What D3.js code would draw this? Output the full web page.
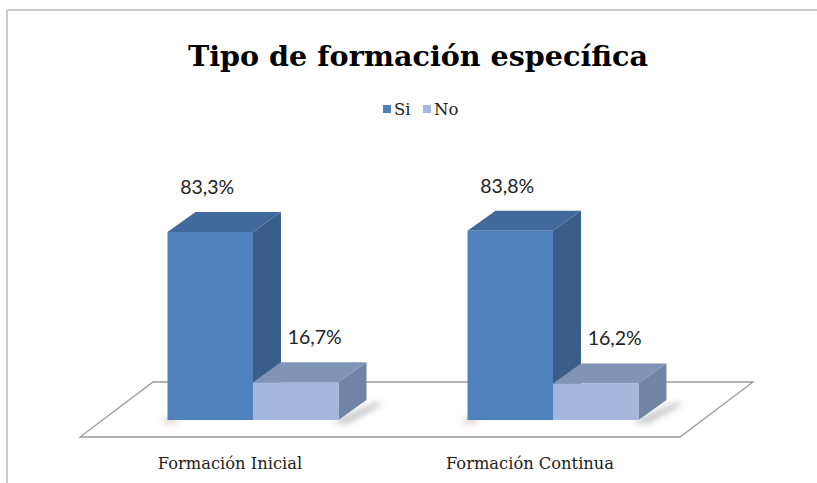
<!DOCTYPE html>
<html>
<head>
<meta charset="utf-8">
<script src="https://cdn.jsdelivr.net/npm/d3@7/dist/d3.min.js"></script>
<style>
  html, body { margin: 0; padding: 0; background: #fff; }
  svg { display: block; }
</style>
</head>
<body>
<script>
// Chart data
const title = "Tipo de formación específica";
const categories = ["Formación Inicial", "Formación Continua"];
const series = ["Si", "No"];
const siValues = [83.3, 83.8];
const noValues = [16.7, 16.2];
const valueLabels = [["83,3%", "16,7%"], ["83,8%", "16,2%"]];

const W = 817, H = 483;

// Styling
const faceColors = {
  Si: { front: "#4f81bd", side: "#3b5e88", top: "#41699c" },
  No: { front: "#a3b8dc", side: "#7085a6", top: "#8094b7" }
};
const legendColors = { Si: "#4f81bd", No: "#a3b8dc" };
const labelNudgeX = { Si: -3, No: 19 };   // horizontal placement of value labels
const depth = { dx: 28, dy: -20 };          // bar depth projection
const floorFront = { dx: -23, dy: 17 };     // floor front edge relative to bar front plane
const floorBack = { dx: 50, dy: -38 };      // floor back edge relative to bar front plane

const svg = d3.select("body").append("svg")
  .attr("width", W).attr("height", H);

const defs = svg.append("defs");
defs.append("filter").attr("id", "soft")
  .attr("x", "-50%").attr("y", "-50%").attr("width", "200%").attr("height", "200%")
  .append("feGaussianBlur").attr("stdDeviation", 3);

// Outer frame (top and left edges visible)
svg.append("line").attr("x1", 7).attr("y1", 10).attr("x2", W).attr("y2", 10)
  .attr("stroke", "#c9c9c9").attr("stroke-width", 2);
svg.append("line").attr("x1", 7).attr("y1", 10).attr("x2", 7).attr("y2", H)
  .attr("stroke", "#c9c9c9").attr("stroke-width", 2);

// Scales (front plane of the bars)
const x0 = d3.scaleBand().domain(categories).range([103, 703])
  .paddingInner(0.43).paddingOuter(0.215);
const x1 = d3.scaleBand().domain(series).range([0, x0.bandwidth()]);
const y = d3.scaleLinear().domain([0, 100]).range([420, 194.3]);

const rows = categories.map((c, i) => ({
  category: c,
  values: [
    { key: "Si", value: siValues[i], label: valueLabels[i][0] },
    { key: "No", value: noValues[i], label: valueLabels[i][1] }
  ]
}));

// Floor
const [fx0, fx1] = x0.range();
const y0 = y(0);
const floorPts = [
  [fx0 + floorFront.dx, y0 + floorFront.dy],
  [fx1 + floorFront.dx, y0 + floorFront.dy],
  [fx1 + floorBack.dx, y0 + floorBack.dy],
  [fx0 + floorBack.dx, y0 + floorBack.dy]
];
svg.append("polygon")
  .attr("points", floorPts.map(p => p.join(",")).join(" "))
  .attr("fill", "#fff").attr("stroke", "#9a9a9a").attr("stroke-width", 1.3);

// Soft shadows cast on the floor
const shadows = svg.append("g").attr("filter", "url(#soft)");
rows.forEach(r => {
  const left = x0(r.category);
  const right = left + x0.bandwidth();
  shadows.append("polygon")
    .attr("points", [
      [right - 6, y0 + 2], [right + depth.dx + 10, y0 + depth.dy + 2],
      [right + depth.dx + 16, y0 + depth.dy + 4], [right + 8, y0 + 4]
    ].map(p => p.join(",")).join(" "))
    .attr("fill", "#7a7a7a").attr("opacity", 0.45);
  shadows.append("polygon")
    .attr("points", [
      [left - 4, y0 - 2], [left + 10, y0 - 2], [left + 10, y0 + 3], [left - 4, y0 + 3]
    ].map(p => p.join(",")).join(" "))
    .attr("fill", "#9a7a60").attr("opacity", 0.4);
});

// 3D bars
const groups = svg.append("g").selectAll("g.cat").data(rows).join("g")
  .attr("class", "cat")
  .attr("transform", d => `translate(${x0(d.category)},0)`);

groups.each(function(r) {
  const g = d3.select(this);
  r.values.forEach(d => {
    const xl = x1(d.key), xr = xl + x1.bandwidth();
    const yt = y(d.value), yb = y(0);
    const c = faceColors[d.key];
    const poly = pts => pts.map(p => p.join(",")).join(" ");
    // side face
    g.append("polygon").attr("points", poly([
      [xr, yb], [xr + depth.dx, yb + depth.dy], [xr + depth.dx, yt + depth.dy], [xr, yt]
    ])).attr("fill", c.side);
    // top face
    g.append("polygon").attr("points", poly([
      [xl, yt], [xr, yt], [xr + depth.dx, yt + depth.dy], [xl + depth.dx, yt + depth.dy]
    ])).attr("fill", c.top);
    // front face
    g.append("rect").attr("x", xl).attr("y", yt)
      .attr("width", x1.bandwidth()).attr("height", yb - yt)
      .attr("fill", c.front);
    // value label
    g.append("text")
      .attr("x", xl + x1.bandwidth() / 2 + labelNudgeX[d.key])
      .attr("y", yt - 45)
      .attr("dy", "0.35em")
      .attr("text-anchor", "middle")
      .attr("font-family", "Lato, 'Liberation Sans', sans-serif")
      .attr("font-size", 19.5)
      .attr("fill", "#222")
      .text(d.label);
  });
});

// Category axis labels, centred under each group on the floor front edge
svg.append("g").selectAll("text").data(categories).join("text")
  .attr("x", d => x0(d) + x0.bandwidth() / 2 + floorFront.dx)
  .attr("y", 469)
  .attr("text-anchor", "middle")
  .attr("font-family", "'DejaVu Serif', serif")
  .attr("font-size", 16.3)
  .attr("fill", "#222")
  .text(d => d);

// Title
svg.append("text")
  .attr("x", 418).attr("y", 66)
  .attr("text-anchor", "middle")
  .attr("font-family", "'DejaVu Serif', serif")
  .attr("font-weight", "bold")
  .attr("font-size", 28.6)
  .attr("fill", "#000")
  .text(title);

// Legend
const legendX = [383, 423];
const legend = svg.append("g").selectAll("g").data(series).join("g")
  .attr("transform", (d, i) => `translate(${legendX[i]},105)`);
legend.append("rect").attr("width", 8).attr("height", 8)
  .attr("fill", d => legendColors[d]);
legend.append("text").attr("x", 11).attr("y", 10)
  .attr("font-family", "'DejaVu Serif', serif")
  .attr("font-size", 16.5)
  .attr("fill", "#222")
  .text(d => d);
</script>
</body>
</html>
